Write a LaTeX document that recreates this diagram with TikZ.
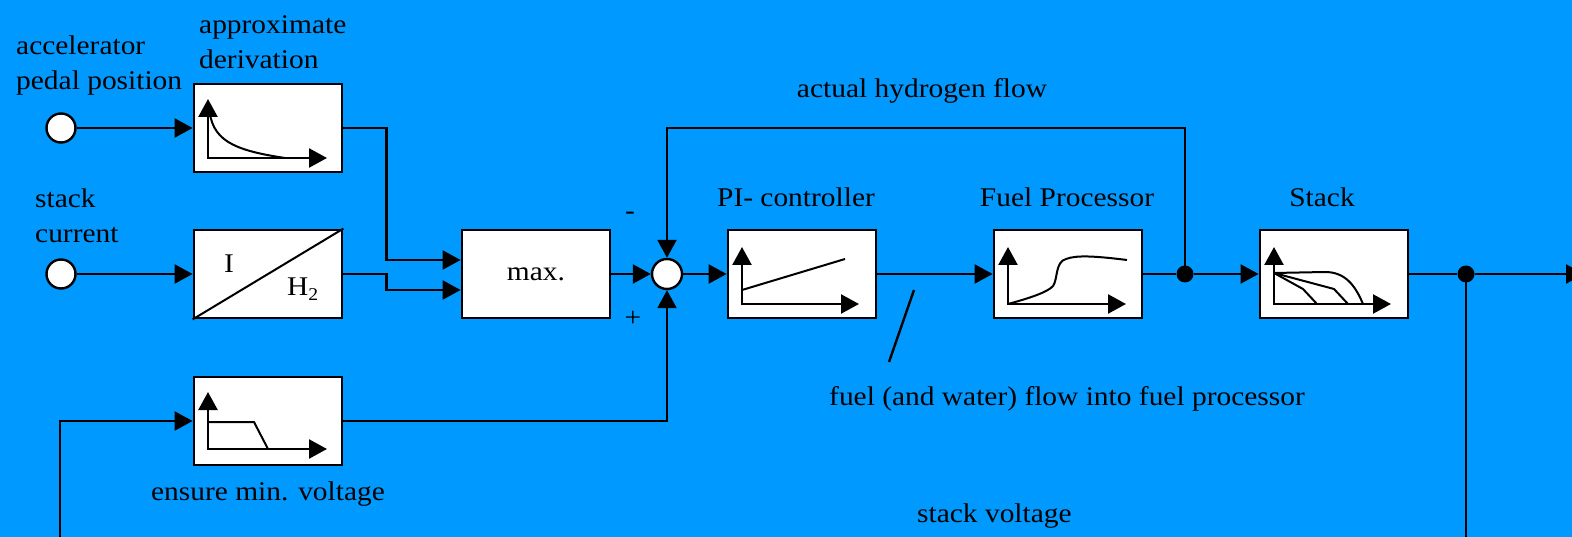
\documentclass[tikz,border=0pt]{standalone}
\usepackage{fontspec}
\setmainfont{Liberation Serif}[FakeStretch=1.09]
\usetikzlibrary{arrows.meta,calc}
\definecolor{bgblue}{HTML}{0099FF}
\begin{document}
\begin{tikzpicture}[x=1pt,y=-1pt,
 blk/.style={draw,fill=white,line width=2.8pt,minimum width=148pt,minimum height=88pt,inner sep=0pt,font=\fontsize{27}{35}\selectfont},
 port/.style={circle,draw,fill=white,line width=2.4pt,minimum size=29pt,inner sep=0pt},
 dot/.style={circle,fill=black,minimum size=17pt,inner sep=0pt},
 lbl/.style={font=\fontsize{27}{35}\selectfont,inner sep=0pt},
 w/.style={line width=2.4pt},
 a/.style={-{Triangle[length=18pt,width=19pt]},line width=2.4pt},
 ax/.style={{Triangle[length=18pt,width=19pt]}-{Triangle[length=18pt,width=19pt]},line width=2.4pt},
 crv/.style={line width=2pt}]
\fill[bgblue] (0,0) rectangle (1572,537);
\useasboundingbox (0,0) rectangle (1572,537);

% inputs and first stage
\node[port] (pedal) at (61,128) {};
\node[port] (curin) at (61,274) {};
\node[blk] (deriv) at (268,128) {};
\node[blk] (conv) at (268,274) {};
\node[blk] (minv) at (268,421) {};
\node[lbl,align=left,anchor=north west] (pedallbl) at (16,36) {accelerator\\pedal position};
\node[lbl,align=left,anchor=north west] (derivlbl) at (199,15) {approximate\\derivation};
\node[lbl,align=left,anchor=north west] (curlbl) at (35,189) {stack\\current};
\node[lbl,anchor=base] (minvlbl) at (268,500) {ensure min. voltage};

% main chain
\node[blk] (maxb) at (536,274) {max.};
\node[port,minimum size=30pt] (sum) at (667,274) {};
\node[blk] (pi) at (802,274) {};
\node[blk] (fuel) at (1068,274) {};
\node[dot] (split) at (1185,274) {};
\node[blk] (stack) at (1334,274) {};
\node[dot] (tap) at (1466,274) {};
\node[lbl,anchor=base] (pilbl) at (796,207) {PI- controller};
\node[lbl,anchor=base] (fuellbl) at (1067,207) {Fuel Processor};
\node[lbl,anchor=base] (stacklbl) at (1322,207) {Stack};
\node[lbl,anchor=base] (h2flow) at (922,98) {actual hydrogen flow};
\node[lbl] (minus) at (630,216) {-};
\node[lbl] (plus) at (633,319) {+};
\node[lbl,anchor=base west] (fflow) at (829,405) {fuel (and water) flow into fuel processor};
\node[lbl,anchor=base west] (svolt) at (917,522) {stack voltage};
\coordinate (vin) at (60,545);
\coordinate (vout) at (1466,545);
\coordinate (out) at (1584,274);

% block graphs
\draw[ax] (208,99) |- (327,158);
\draw[crv] (209,106) .. controls (211,140) and (232,150) .. (285,158);
\draw[crv] (conv.south west) -- (conv.north east);
\node[lbl,anchor=base] (ilbl) at (229,273) {I};
\node[lbl,anchor=base west] (h2lbl) at (287,296) {H\raisebox{-5pt}{\fontsize{18}{18}\selectfont 2}};
\draw[ax] (208,392) |- (327,449);
\draw[crv] (208,422) -- (254,422) -- (268,449);
\draw[ax] (742,247) |- (859,304);
\draw[crv] (742,290) -- (845,259);
\draw[ax] (1008,247) |- (1126,304);
\draw[crv] (1008,304) .. controls (1030,298) and (1048,292) .. (1053,286)
 .. controls (1058,279) and (1055,262) .. (1066,259) .. controls (1076,255) and (1095,256) .. (1127,260);
\draw[ax] (1274,247) |- (1391,304);
\draw[crv] (1274,273) -- (1325,272) .. controls (1345,272) and (1355,285) .. (1363,304);
\draw[crv] (1274,273) -- (1334,289) -- (1348,304);
\draw[crv] (1274,273) -- (1303,289) -- (1317,304);

% connectors
\draw[a] (pedal) -- (deriv);
\draw[a] (curin) -- (conv);
\draw[a] (vin) |- (minv.west);
\draw[a] (deriv.east) -- ++(43,0) |- ($(maxb.west)+(0,-14)$);
\draw[a] (conv.east) -- ++(43,0) |- ($(maxb.west)+(0,16)$);
\draw[a] (maxb) -- (sum);
\draw[a] (minv.east) -| (sum.south);
\draw[a] (split.center) -- ++(0,-146) -| (sum.north);
\draw[a] (sum) -- (pi);
\draw[a] (pi) -- (fuel);
\draw[w] (fuel) -- (split);
\draw[a] (split) -- (stack);
\draw[w] (stack) -- (tap);
\draw[a] (tap) -- (out);
\draw[w] (tap.center) -- (vout);
\draw[w] (914,290) -- (889,362);
\end{tikzpicture}
\end{document}
